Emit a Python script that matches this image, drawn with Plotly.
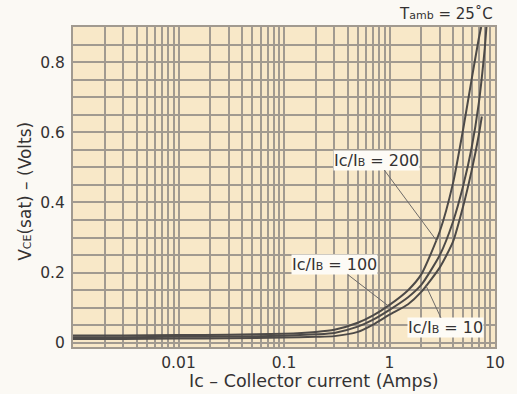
import plotly.graph_objects as go

# Collector current (A) and VCE(sat) (V)
ic_200 = [0.001, 0.003, 0.01, 0.03, 0.1, 0.2, 0.3, 0.5, 0.7, 1.0, 1.5, 2.0, 3.0, 4.0, 5.0, 6.0, 7.0, 7.4]
vce_200 = [0.021, 0.021, 0.022, 0.023, 0.026, 0.031, 0.037, 0.057, 0.078, 0.108, 0.150, 0.195, 0.318, 0.455, 0.610, 0.750, 0.865, 0.900]

ic_100 = [0.001, 0.003, 0.01, 0.03, 0.1, 0.2, 0.3, 0.5, 0.7, 1.0, 1.5, 2.0, 3.0, 4.0, 5.0, 6.0, 7.0, 8.0, 8.3]
vce_100 = [0.016, 0.016, 0.017, 0.018, 0.020, 0.024, 0.028, 0.046, 0.066, 0.094, 0.130, 0.165, 0.250, 0.345, 0.448, 0.555, 0.680, 0.840, 0.900]

ic_10 = [0.001, 0.003, 0.01, 0.03, 0.1, 0.2, 0.3, 0.5, 0.7, 1.0, 1.5, 2.0, 3.0, 4.0, 5.0, 6.0, 7.0, 7.5]
vce_10 = [0.011, 0.011, 0.012, 0.013, 0.015, 0.017, 0.019, 0.031, 0.052, 0.080, 0.110, 0.145, 0.215, 0.288, 0.390, 0.490, 0.590, 0.645]

x_tick_labels = {0.01: "0.01", 0.1: "0.1", 1: "1", 10: "10"}
y_tick_vals = [0, 0.2, 0.4, 0.6, 0.8]
y_tick_text = ["0", "0.2", "0.4", "0.6", "0.8"]

grid_col = "#a19a90"
curve_col = "#4d4a48"
txt_col = "#343232"
FONT = "DejaVu Sans, Verdana, sans-serif"

# all 1..9 x 10^n gridline positions
x_grid = []
for e in range(-3, 1):
    for m in range(1, 10):
        x_grid.append(round(m * 10 ** e, 6))
x_grid.append(10)
x_text = [x_tick_labels.get(v, "") for v in x_grid]

fig = go.Figure()
for xs, ys in [(ic_200, vce_200), (ic_100, vce_100), (ic_10, vce_10)]:
    fig.add_trace(go.Scatter(x=xs, y=ys, mode="lines",
                             line=dict(color=curve_col, width=2, shape="spline", smoothing=0.6),
                             showlegend=False, hoverinfo="skip"))

fig.update_layout(
    width=517, height=394,
    margin=dict(l=73, r=18, t=27, b=47),
    paper_bgcolor="#fbf9f4",
    plot_bgcolor="#f8e8c8",
    font=dict(family=FONT, size=15.5, color=txt_col),
    showlegend=False,
)
fig.update_xaxes(
    type="log", range=[-3, 1],
    tickmode="array", tickvals=x_grid, ticktext=x_text,
    showgrid=True, gridcolor=grid_col, gridwidth=1.5,
    showline=True, linecolor=grid_col, linewidth=2, mirror=True,
    ticks="", ticklabelstandoff=0, zeroline=False,
)
fig.update_yaxes(
    range=[-0.012, 0.9],
    tickmode="array", tickvals=y_tick_vals, ticktext=y_tick_text,
    showgrid=True, gridcolor=grid_col, gridwidth=1.5,
    minor=dict(dtick=0.05, tick0=0, showgrid=True, gridcolor=grid_col, gridwidth=1.5),
    showline=True, linecolor=grid_col, linewidth=2, mirror=True,
    ticks="", zeroline=False, ticklabelstandoff=3,
)

small = "<span style='font-size:11px'>{}</span>"
lab = "Ic/I" + small.format("B") + " = {}"
box = dict(bgcolor="#fdfbf6", borderpad=0, font=dict(size=16, color=txt_col, family=FONT),
           showarrow=True, arrowhead=0, arrowwidth=1, arrowcolor="#6d6a68")

fig.add_annotation(x=0.449, y=0.29, text=lab.format("200"), ax=-60, ay=-81, **box)
fig.add_annotation(x=0.02, y=0.098, text=lab.format("100"), ax=-57, ay=-44, **box)
fig.add_annotation(x=0.342, y=0.165, text=lab.format("10"), ax=20, ay=43, **box)

fig.add_annotation(xref="paper", yref="paper", x=1.0, y=1.0, xanchor="right", yanchor="bottom", yshift=2,
                   text="T" + small.format("amb") + " = 25˚C", showarrow=False,
                   font=dict(size=15, color=txt_col, family=FONT))
fig.add_annotation(xref="paper", yref="paper", x=0.57, y=0, yshift=-34, xanchor="center", yanchor="middle",
                   text="Ic – Collector current (Amps)", showarrow=False,
                   font=dict(size=17.5, color=txt_col, family=FONT))
fig.add_annotation(xref="paper", yref="paper", x=0, xshift=-48, y=0.485, xanchor="center", yanchor="middle",
                   textangle=-90, text="V" + small.format("CE") + "(sat) – (Volts)", showarrow=False,
                   font=dict(size=17, color=txt_col, family=FONT))

fig.write_html("out.html")
